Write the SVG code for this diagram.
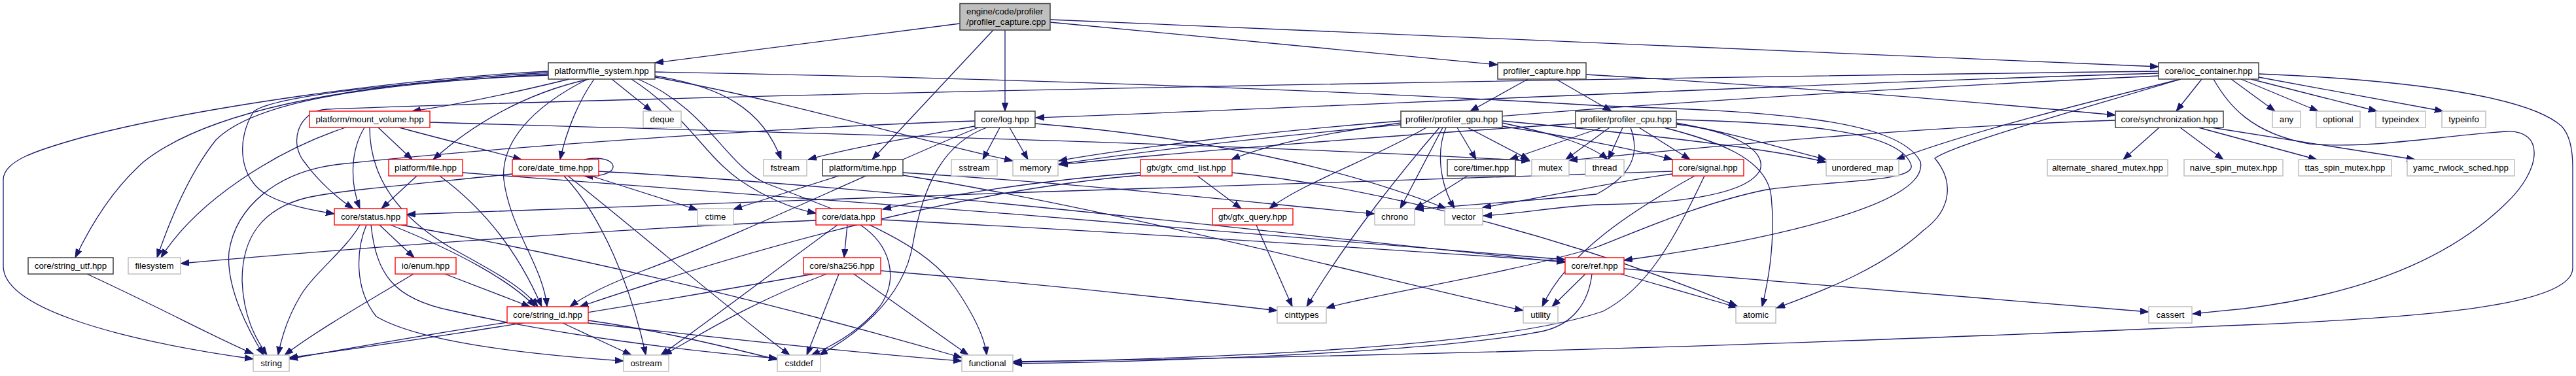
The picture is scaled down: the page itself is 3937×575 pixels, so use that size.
<svg xmlns="http://www.w3.org/2000/svg" width="3937" height="575" viewBox="0 0 3937 575">
<style>
.e{fill:none;stroke:#191970;stroke-width:1.3;marker-end:url(#a)}
.b{fill:#fff;stroke:#404040;stroke-width:1.5}
.r{fill:#fff;stroke:#ff0000;stroke-width:1.4}
.g{fill:#fff;stroke:#bfbfbf;stroke-width:1.5}
text{font-family:"Liberation Sans",Arial,sans-serif;font-size:13.33px;fill:#000;text-anchor:middle}
</style>
<defs>
<marker id="a" markerWidth="14" markerHeight="11" refX="13" refY="5" orient="auto" markerUnits="userSpaceOnUse"><path d="M0,0.3 L13,5 L0,9.7 z" fill="#191970" stroke="#191970" stroke-width="1"/></marker>
</defs>
<rect width="3937" height="575" fill="#fff"/>
<g id="edges">
<path class="e" d="M1467,36 L1001,96"/>
<path class="e" d="M1518,46 L1333,244"/>
<path class="e" d="M1536,46 L1536,170"/>
<path class="e" d="M1605,34 L2289,99"/>
<path class="e" d="M1605,30 L3299,102"/>
<path class="e" d="M2335,121 L2247,170"/>
<path class="e" d="M2378,121 L2463,170"/>
<path class="e" d="M2424,114 C2700,130 3000,154 3233,176"/>
<path class="e" d="M3365,121 L3326,170"/>
<path class="e" d="M3410,121 L3477,170"/>
<path class="e" d="M3425,121 L3543,170"/>
<path class="e" d="M3440,121 L3633,170"/>
<path class="e" d="M3452,118 L3734,170"/>
<path class="e" d="M3333,121 C3200,154 3000,204 2898,244"/>
<path class="e" d="M3333,121 C3150,176 2990,220 2957,242 C2985,275 2985,319 2940,352 C2880,407 2800,440 2715,471"/>
<path class="e" d="M3383,121 C3405,160 3440,204 3530,220 C3620,228 3720,209 3830,201 C3890,198 3885,259 3830,311 C3760,380 3640,446 3430,472 C3400,475 3380,477 3351,480"/>
<path class="e" d="M3452,113 C3650,121 3860,143 3915,193 C3930,209 3932,237 3932,256 L3932,410 C3932,468 3700,486 3430,497 C3000,515 2400,541 1548,553"/>
<path class="e" d="M3299,112 C2700,130 2000,165 1583,180"/>
<path class="e" d="M3299,116 C2600,149 2000,193 1618,251"/>
<path class="e" d="M3299,109 C2500,119 1200,141 500,167 C455,169 440,220 467,250 C485,275 515,303 540,319"/>
<path class="e" d="M3300,195 L3245,244"/>
<path class="e" d="M3332,195 L3398,244"/>
<path class="e" d="M3360,195 L3541,244"/>
<path class="e" d="M3380,195 L3691,244"/>
<path class="e" d="M3233,184 C2900,195 2600,226 2398,245"/>
<path class="e" d="M2141,188 C2000,207 1930,224 1882,244"/>
<path class="e" d="M2227,195 L2256,244"/>
<path class="e" d="M2243,195 L2337,244"/>
<path class="e" d="M2205,195 L2140,319"/>
<path class="e" d="M2210,195 C2195,231 2200,280 2223,319"/>
<path class="e" d="M2200,195 C2150,253 2060,363 1997,469"/>
<path class="e" d="M2141,185 C1900,204 1700,231 1618,246"/>
<path class="e" d="M2296,188 C2370,204 2430,220 2457,244"/>
<path class="e" d="M2296,185 C2500,204 2700,226 2791,248"/>
<path class="e" d="M2296,193 C2400,209 2500,229 2556,244"/>
<path class="e" d="M2180,195 C2100,242 1990,280 1940,319"/>
<path class="e" d="M1528,195 L1502,244"/>
<path class="e" d="M1543,195 L1571,244"/>
<path class="e" d="M1490,193 C1400,209 1300,226 1235,244"/>
<path class="e" d="M1490,185 C1150,196 700,231 520,251 C420,262 360,319 350,385 C345,440 380,506 403,543"/>
<path class="e" d="M1508,195 C1440,220 1410,286 1395,374 C1380,462 1300,517 1252,543"/>
<path class="e" d="M1495,195 C1350,253 1150,352 980,415 C930,435 895,451 871,469"/>
<path class="e" d="M1582,189 C1900,215 2100,275 2210,319"/>
<path class="e" d="M1830,269 L1897,319"/>
<path class="e" d="M1743,264 C1600,275 1450,297 1349,320"/>
<path class="e" d="M1743,268 C1500,288 1200,363 886,469"/>
<path class="e" d="M1883,264 C2100,286 2400,363 2655,468"/>
<path class="e" d="M1920,344 L1975,469"/>
<path class="e" d="M2243,269 L2163,319"/>
<path class="e" d="M1282,269 L1121,320"/>
<path class="e" d="M1380,264 C1700,284 1950,314 2101,327"/>
<path class="e" d="M893,244 C945,233 958,272 893,269"/>
<path class="e" d="M903,269 C950,284 1010,303 1066,321"/>
<path class="e" d="M862,269 C920,330 965,440 987,543"/>
<path class="e" d="M868,269 C960,341 1100,462 1207,543"/>
<path class="e" d="M783,266 C650,280 520,291 470,302 C400,319 370,363 370,429 C372,484 390,517 408,543"/>
<path class="e" d="M915,262 C1400,288 2000,363 2392,401"/>
<path class="e" d="M838,109 C600,121 300,165 130,209 C50,231 5,247 5,275 L5,407 C5,467 160,517 387,549"/>
<path class="e" d="M838,111 C500,130 310,176 220,247 C170,291 135,352 115,394"/>
<path class="e" d="M838,113 C560,130 390,154 330,214 C290,264 262,330 240,394"/>
<path class="e" d="M838,115 C600,125 420,148 388,170 C360,214 365,275 410,299 C440,315 480,322 511,327"/>
<path class="e" d="M870,121 C780,143 700,160 630,170"/>
<path class="e" d="M900,121 C800,143 720,192 662,244"/>
<path class="e" d="M898,121 C810,165 765,220 770,275 C780,352 830,407 836,469"/>
<path class="e" d="M908,121 C885,154 866,198 856,244"/>
<path class="e" d="M935,121 L996,170"/>
<path class="e" d="M1001,116 C1100,132 1165,165 1194,244"/>
<path class="e" d="M1001,118 C1200,154 1400,214 1548,246"/>
<path class="e" d="M965,121 C1050,176 1075,236 1130,275 C1170,302 1210,319 1247,326"/>
<path class="e" d="M975,121 C1080,165 1110,253 1170,280 C1300,330 1410,368 1460,440 C1490,484 1505,517 1508,543"/>
<path class="e" d="M1001,110 C1600,121 2100,141 2450,162 C2700,170 2900,181 2935,247 C2950,313 2700,368 2482,398"/>
<path class="e" d="M578,195 L630,244"/>
<path class="e" d="M610,195 C680,214 750,231 797,244"/>
<path class="e" d="M557,195 C535,231 535,280 550,319"/>
<path class="e" d="M528,195 C420,231 300,308 246,394"/>
<path class="e" d="M565,195 C565,264 600,330 700,385 C760,418 800,440 822,469"/>
<path class="e" d="M657,187 C1200,203 1900,220 2338,246"/>
<path class="e" d="M637,269 L583,319"/>
<path class="e" d="M672,269 C740,319 792,385 828,469"/>
<path class="e" d="M707,264 C1200,299 1900,354 2392,397"/>
<path class="e" d="M550,344 C530,380 480,418 460,451 C440,484 430,517 425,543"/>
<path class="e" d="M580,344 L633,394"/>
<path class="e" d="M597,344 C700,385 780,429 818,469"/>
<path class="e" d="M560,344 C545,380 540,440 575,484 C650,528 850,545 953,552"/>
<path class="e" d="M567,344 C575,418 600,457 690,475 C850,512 1050,537 1188,548"/>
<path class="e" d="M613,344 C900,396 1200,468 1470,547"/>
<path class="e" d="M632,419 C560,462 480,508 435,543"/>
<path class="e" d="M680,419 L810,469"/>
<path class="e" d="M775,493 C650,512 520,535 442,549"/>
<path class="e" d="M860,494 L965,543"/>
<path class="e" d="M899,490 C1000,504 1100,528 1188,550"/>
<path class="e" d="M899,494 C1100,517 1300,539 1470,552"/>
<path class="e" d="M1295,344 L1290,394"/>
<path class="e" d="M1280,344 C1200,402 1100,479 1010,543"/>
<path class="e" d="M1315,344 C1360,374 1375,424 1345,468 C1315,506 1270,530 1240,543"/>
<path class="e" d="M1347,336 C1700,354 2100,380 2392,400"/>
<path class="e" d="M1247,337 C900,352 500,383 276,403"/>
<path class="e" d="M1243,419 C1000,462 700,512 442,547"/>
<path class="e" d="M1263,419 C1150,462 1080,506 1014,543"/>
<path class="e" d="M1282,419 L1233,543"/>
<path class="e" d="M1305,419 L1480,543"/>
<path class="e" d="M1346,414 C1600,435 1800,457 1952,475"/>
<path class="e" d="M2423,419 L2372,469"/>
<path class="e" d="M2477,419 L2655,470"/>
<path class="e" d="M2482,411 C2800,435 3100,462 3284,477"/>
<path class="e" d="M2433,419 C2428,462 2405,495 2360,506 C2200,539 1800,552 1549,556"/>
<path class="e" d="M2448,195 L2307,244"/>
<path class="e" d="M2460,195 L2393,244"/>
<path class="e" d="M2480,195 L2458,244"/>
<path class="e" d="M2505,195 L2583,244"/>
<path class="e" d="M2562,188 C2650,204 2720,226 2791,244"/>
<path class="e" d="M2562,190 C2650,200 2700,230 2690,260 C2670,300 2550,312 2440,313 C2380,316 2320,327 2267,330"/>
<path class="e" d="M2562,183 C2750,188 2900,200 2920,250 C2935,280 2800,275 2700,290 C2600,310 2500,355 2440,378 C2300,420 2100,450 2027,471"/>
<path class="e" d="M2543,195 C2620,215 2700,240 2707,300 C2713,360 2705,420 2693,469"/>
<path class="e" d="M2408,189 C2100,209 1800,233 1619,252"/>
<path class="e" d="M2556,262 C2000,280 1200,305 622,328"/>
<path class="e" d="M2492,195 C2505,230 2500,265 2440,297 C2350,306 2250,313 2163,320"/>
<path class="e" d="M2556,266 C2450,280 2350,305 2266,317"/>
<path class="e" d="M2590,269 C2500,319 2395,385 2357,469"/>
<path class="e" d="M2605,269 C2560,363 2520,440 2450,476 C2300,528 1900,547 1548,554"/>
<path class="e" d="M133,419 C250,473 330,517 387,541"/>
<path class="e" d="M1380,268 C1700,319 2100,424 2328,475"/>
</g>
<g id="root"><rect x="1467" y="5.5" width="138" height="40.5" fill="#bfbfbf" stroke="#404040" stroke-width="1.5"/><text x="1477" y="22" style="text-anchor:start">engine/code/profiler</text><text x="1477" y="37.5" style="text-anchor:start">/profiler_capture.cpp</text></g>
<g id="n_file_system"><rect class="b" x="838" y="96" width="163" height="25"/><text x="919.5" y="113">platform/file_system.hpp</text></g>
<g id="n_profiler_capture_hpp"><rect class="b" x="2289" y="96" width="135" height="25"/><text x="2356.5" y="113">profiler_capture.hpp</text></g>
<g id="n_ioc_container"><rect class="b" x="3299" y="96" width="153" height="25"/><text x="3375.5" y="113">core/ioc_container.hpp</text></g>
<g id="n_mount_volume"><rect class="r" x="473" y="170" width="184" height="25"/><text x="565" y="187">platform/mount_volume.hpp</text></g>
<g id="n_deque"><rect class="g" x="983" y="170" width="58" height="25"/><text x="1012" y="187">deque</text></g>
<g id="n_log"><rect class="b" x="1490" y="170" width="92" height="25"/><text x="1536" y="187">core/log.hpp</text></g>
<g id="n_profiler_gpu"><rect class="b" x="2141" y="170" width="155" height="25"/><text x="2218.5" y="187">profiler/profiler_gpu.hpp</text></g>
<g id="n_profiler_cpu"><rect class="b" x="2408" y="170" width="154" height="25"/><text x="2485" y="187">profiler/profiler_cpu.hpp</text></g>
<g id="n_synchronization"><rect class="b" x="3233" y="170" width="165" height="25"/><text x="3315.5" y="187">core/synchronization.hpp</text></g>
<g id="n_any"><rect class="g" x="3473" y="170" width="43" height="25"/><text x="3494.5" y="187">any</text></g>
<g id="n_optional"><rect class="g" x="3540" y="170" width="67" height="25"/><text x="3573.5" y="187">optional</text></g>
<g id="n_typeindex"><rect class="g" x="3631" y="170" width="76" height="25"/><text x="3669" y="187">typeindex</text></g>
<g id="n_typeinfo"><rect class="g" x="3732" y="170" width="67" height="25"/><text x="3765.5" y="187">typeinfo</text></g>
<g id="n_file"><rect class="r" x="594" y="244" width="113" height="25"/><text x="650.5" y="261">platform/file.hpp</text></g>
<g id="n_date_time"><rect class="r" x="783" y="244" width="132" height="25"/><text x="849" y="261">core/date_time.hpp</text></g>
<g id="n_fstream"><rect class="g" x="1167" y="244" width="66" height="25"/><text x="1200" y="261">fstream</text></g>
<g id="n_time"><rect class="b" x="1257" y="244" width="123" height="25"/><text x="1318.5" y="261">platform/time.hpp</text></g>
<g id="n_sstream"><rect class="g" x="1454" y="244" width="70" height="25"/><text x="1489" y="261">sstream</text></g>
<g id="n_memory"><rect class="g" x="1548" y="244" width="69" height="25"/><text x="1582.5" y="261">memory</text></g>
<g id="n_gfx_cmd_list"><rect class="r" x="1743" y="244" width="140" height="25"/><text x="1813" y="261">gfx/gfx_cmd_list.hpp</text></g>
<g id="n_timer"><rect class="b" x="2212" y="244" width="104" height="25"/><text x="2264" y="261">core/timer.hpp</text></g>
<g id="n_mutex"><rect class="g" x="2341" y="244" width="57" height="25"/><text x="2369.5" y="261">mutex</text></g>
<g id="n_thread"><rect class="g" x="2423" y="244" width="59" height="25"/><text x="2452.5" y="261">thread</text></g>
<g id="n_signal"><rect class="r" x="2556" y="244" width="109" height="25"/><text x="2610.5" y="261">core/signal.hpp</text></g>
<g id="n_unordered_map"><rect class="g" x="2791" y="244" width="111" height="25"/><text x="2846.5" y="261">unordered_map</text></g>
<g id="n_alternate_shared_mutex"><rect class="g" x="3129" y="244" width="184" height="25"/><text x="3221" y="261">alternate_shared_mutex.hpp</text></g>
<g id="n_naive_spin_mutex"><rect class="g" x="3338" y="244" width="151" height="25"/><text x="3413.5" y="261">naive_spin_mutex.hpp</text></g>
<g id="n_ttas_spin_mutex"><rect class="g" x="3513" y="244" width="142" height="25"/><text x="3584" y="261">ttas_spin_mutex.hpp</text></g>
<g id="n_yamc_rwlock_sched"><rect class="g" x="3679" y="244" width="164" height="25"/><text x="3761" y="261">yamc_rwlock_sched.hpp</text></g>
<g id="n_status"><rect class="r" x="511" y="319" width="111" height="25"/><text x="566.5" y="336">core/status.hpp</text></g>
<g id="n_ctime"><rect class="g" x="1066" y="319" width="55" height="25"/><text x="1093.5" y="336">ctime</text></g>
<g id="n_data"><rect class="r" x="1247" y="319" width="100" height="25"/><text x="1297" y="336">core/data.hpp</text></g>
<g id="n_gfx_query"><rect class="r" x="1853" y="319" width="123" height="25"/><text x="1914.5" y="336">gfx/gfx_query.hpp</text></g>
<g id="n_chrono"><rect class="g" x="2101" y="319" width="61" height="25"/><text x="2131.5" y="336">chrono</text></g>
<g id="n_vector"><rect class="g" x="2208" y="319" width="58" height="25"/><text x="2237" y="336">vector</text></g>
<g id="n_string_utf"><rect class="b" x="43" y="394" width="130" height="25"/><text x="108" y="411">core/string_utf.hpp</text></g>
<g id="n_filesystem"><rect class="g" x="196" y="394" width="80" height="25"/><text x="236" y="411">filesystem</text></g>
<g id="n_enum"><rect class="r" x="604" y="394" width="93" height="25"/><text x="650.5" y="411">io/enum.hpp</text></g>
<g id="n_sha256"><rect class="r" x="1228" y="394" width="118" height="25"/><text x="1287" y="411">core/sha256.hpp</text></g>
<g id="n_ref"><rect class="r" x="2392" y="394" width="90" height="25"/><text x="2437" y="411">core/ref.hpp</text></g>
<g id="n_string_id"><rect class="r" x="775" y="469" width="124" height="25"/><text x="837" y="486">core/string_id.hpp</text></g>
<g id="n_cinttypes"><rect class="g" x="1952" y="469" width="75" height="25"/><text x="1989.5" y="486">cinttypes</text></g>
<g id="n_utility"><rect class="g" x="2328" y="469" width="53" height="25"/><text x="2354.5" y="486">utility</text></g>
<g id="n_atomic"><rect class="g" x="2653" y="469" width="61" height="25"/><text x="2683.5" y="486">atomic</text></g>
<g id="n_cassert"><rect class="g" x="3284" y="469" width="66" height="25"/><text x="3317" y="486">cassert</text></g>
<g id="n_string"><rect class="g" x="387" y="543" width="55" height="25"/><text x="414.5" y="560">string</text></g>
<g id="n_ostream"><rect class="g" x="953" y="543" width="69" height="25"/><text x="987.5" y="560">ostream</text></g>
<g id="n_cstddef"><rect class="g" x="1188" y="543" width="66" height="25"/><text x="1221" y="560">cstddef</text></g>
<g id="n_functional"><rect class="g" x="1470" y="543" width="78" height="25"/><text x="1509" y="560">functional</text></g>
</svg>
